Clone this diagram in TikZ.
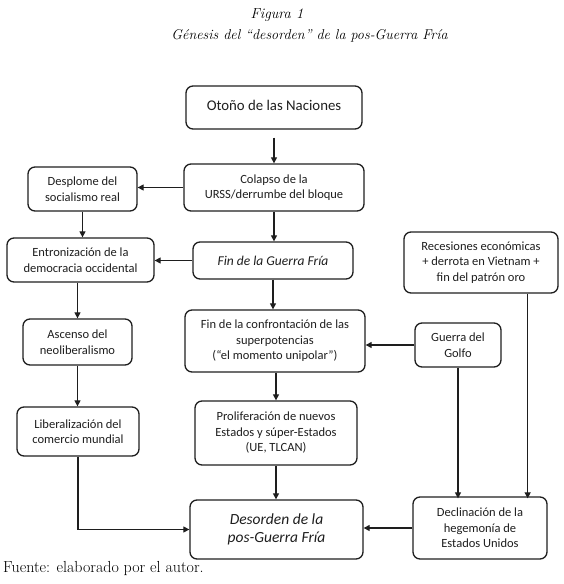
\documentclass[tikz,border=0pt]{standalone}
\usepackage{fontspec}
\newfontfamily\boxfont{Carlito}
\usetikzlibrary{arrows.meta,calc}
\definecolor{ink}{HTML}{1E1E1E}
\tikzset{
  box/.style={draw=ink, line width=1.3pt, rounded corners=7pt, align=center,
    inner sep=0pt, text=ink, font=\boxfont\fontsize{12.5}{15.5}\selectfont},
  bigit/.style={font=\boxfont\itshape\fontsize{13.5}{16}\selectfont},
  hugeit/.style={font=\boxfont\itshape\fontsize{15.5}{18}\selectfont},
  arr/.style={draw=ink, line width=1.2pt, -{Triangle[length=6pt,width=6pt]}},
}
\begin{document}
\begin{tikzpicture}[x=1pt,y=-1pt]
\useasboundingbox (0,0) rectangle (563,584);
% titles
\node[anchor=base, inner sep=0pt, font=\itshape\fontsize{14.5}{17}\selectfont] (fig) at (277,18) {Figura 1};
\node[anchor=base, inner sep=0pt, font=\itshape\fontsize{14.2}{16}\selectfont] (tit) at (309.5,39) {Génesis del “desorden” de la pos-Guerra Fría};
\node[anchor=base west, inner sep=0pt, font=\fontsize{16}{18}\selectfont] (src) at (3,572) {Fuente: elaborado por el autor.};
% boxes
\node[box, font=\boxfont\fontsize{14.8}{16}\selectfont, minimum width=176pt, minimum height=43pt] (otono) at (274,107.5) {\raisebox{4.5pt}{Otoño de las Naciones}};
\node[box, minimum width=180pt, minimum height=47pt] (colapso) at (274,187.5) {Colapso de la\\URSS/derrumbe del bloque};
\node[box, minimum width=109pt, minimum height=44pt] (desplome) at (82.5,189) {Desplome del\\socialismo real};
\node[box, minimum width=147pt, minimum height=44pt] (entron) at (80.5,260) {Entronización de la\\democracia occidental};
\node[box, bigit, minimum width=160pt, minimum height=37pt] (fin) at (273,260.5) {Fin de la Guerra Fría};
\node[box, minimum width=154pt, minimum height=61pt] (reces) at (481,262.5) {Recesiones económicas\\+ derrota en Vietnam +\\fin del patrón oro};
\node[box, minimum width=109pt, minimum height=46pt] (ascenso) at (77.5,342) {Ascenso del\\neoliberalismo};
\node[box, minimum width=180pt, minimum height=62pt] (finconf) at (275,341) {Fin de la confrontación de las\\superpotencias\\(“el momento unipolar”)};
\node[box, minimum width=86pt, minimum height=44pt] (golfo) at (458,345) {Guerra del\\Golfo};
\node[box, minimum width=122pt, minimum height=49pt] (lib) at (78,431.5) {Liberalización del\\comercio mundial};
\node[box, minimum width=162pt, minimum height=64pt] (prolif) at (276,433) {Proliferación de nuevos\\Estados y súper-Estados\\(UE, TLCAN)};
\node[box, hugeit, minimum width=173pt, minimum height=59pt] (desorden) at (276.5,529.5) {Desorden de la\\pos-Guerra Fría};
\node[box, minimum width=134pt, minimum height=62pt] (declin) at (480,528) {Declinación de la\\hegemonía de\\Estados Unidos};
% connectors
\draw[arr, shorten <=8pt] (otono.south -| colapso.north) -- (colapso.north);
\draw[arr] (colapso.west) -- (colapso.west -| desplome.east);
\draw[arr] (desplome.south) -- (desplome.south |- entron.north);
\draw[arr] (colapso.south) -- (colapso.south |- fin.north);
\draw[arr] (fin.west) -- (fin.west -| entron.east);
\draw[arr] (ascenso.north |- entron.south) -- (ascenso.north);
\draw[arr] (ascenso.south) -- (ascenso.south |- lib.north);
\draw[arr] (fin.south) -- (fin.south |- finconf.north);
\draw[arr] (golfo.west) -- (golfo.west -| finconf.east);
\draw[arr] (finconf.south -| prolif.north) -- (prolif.north);
\draw[arr] (prolif.south) -- (prolif.south |- desorden.north);
\draw[arr] (lib.south) -- (lib.south |- desorden.west) -- (desorden.west);
\draw[arr] (golfo.south) -- ([yshift=-2pt]golfo.south |- declin.north);
\draw[arr] ([xshift=-31pt]reces.south east) -- ([xshift=-31pt,yshift=-2pt]reces.south east |- declin.north);
\draw[arr] (declin.west) -- (declin.west -| desorden.east);
\end{tikzpicture}
\end{document}
